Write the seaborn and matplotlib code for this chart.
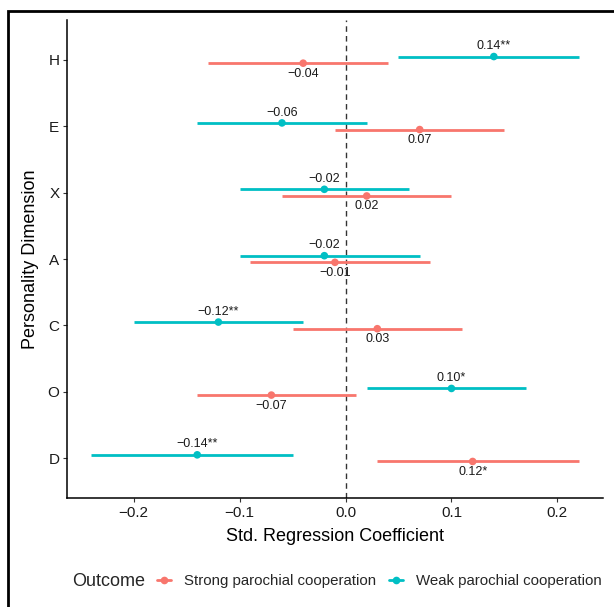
import numpy as np
import pandas as pd
import matplotlib
matplotlib.use("Agg")
import matplotlib.pyplot as plt
import seaborn as sns
from matplotlib.lines import Line2D
from matplotlib.patches import Rectangle

# ---- data ----
dimensions = ["H", "E", "X", "A", "C", "O", "D"]
outcomes = ["Strong parochial cooperation", "Weak parochial cooperation"]
strong_est = [-0.04, 0.07, 0.02, -0.01, 0.03, -0.07, 0.12]
strong_lo = [-0.13, -0.01, -0.06, -0.09, -0.05, -0.14, 0.03]
strong_hi = [0.04, 0.15, 0.10, 0.08, 0.11, 0.01, 0.22]
strong_sig = ["", "", "", "", "", "", "*"]
weak_est = [0.14, -0.06, -0.02, -0.02, -0.12, 0.10, -0.14]
weak_lo = [0.05, -0.14, -0.10, -0.10, -0.20, 0.02, -0.24]
weak_hi = [0.22, 0.02, 0.06, 0.07, -0.04, 0.17, -0.05]
weak_sig = ["**", "", "", "", "**", "*", "**"]
x_ticks = [-0.2, -0.1, 0.0, 0.1, 0.2]
x_tick_labels = ["\u22120.2", "\u22120.1", "0.0", "0.1", "0.2"]

colors = {outcomes[0]: "#F8766D", outcomes[1]: "#00BFC4"}
dodge = {outcomes[0]: -0.05, outcomes[1]: 0.05}
label_offset = {outcomes[0]: -7.5, outcomes[1]: 7.5}

n = len(dimensions)
rows = []
for i, d in enumerate(dimensions):
    rows.append(dict(dim=d, outcome=outcomes[0], est=strong_est[i], lo=strong_lo[i],
                     hi=strong_hi[i], sig=strong_sig[i], base=n - i))
    rows.append(dict(dim=d, outcome=outcomes[1], est=weak_est[i], lo=weak_lo[i],
                     hi=weak_hi[i], sig=weak_sig[i], base=n - i))
df = pd.DataFrame(rows)
df["ypos"] = df["base"] + df["outcome"].map(dodge)

sns.set_theme(style="white")
plt.rcParams["font.family"] = ["Liberation Sans", "DejaVu Sans"]

fig = plt.figure(figsize=(6.14, 6.07), dpi=100)
ax = fig.add_axes([0.109, 0.1796, 0.873, 0.7874])

# reference line
ax.axvline(0, color="#333333", lw=1.0, ls=(0, (4, 3)), zorder=1)

# confidence intervals
for o in outcomes:
    sub = df[df["outcome"] == o]
    ax.hlines(sub["ypos"], sub["lo"], sub["hi"], color=colors[o], lw=2.0, zorder=2)

sns.scatterplot(data=df, x="est", y="ypos", hue="outcome", palette=colors,
                s=30, linewidth=0, legend=False, ax=ax, zorder=3)

# value labels
for _, r in df.iterrows():
    txt = f"{r['est']:.2f}".replace("-", "\u2212") + r["sig"]
    ax.annotate(txt, (r["est"], r["ypos"]), xytext=(0, label_offset[r["outcome"]]),
                textcoords="offset points", ha="center", va="center",
                fontsize=9, color="#1a1a1a", zorder=4)

ax.set_xlim(-0.263, 0.243)
ax.set_ylim(0.4, 7.6)
ax.set_xticks(x_ticks)
ax.set_xticklabels(x_tick_labels)
ax.set_yticks(range(n, 0, -1))
ax.set_yticklabels(dimensions)
ax.tick_params(axis="both", length=3, width=0.8, color="#333333", labelsize=11,
               labelcolor="#1a1a1a", pad=2.5, bottom=True, left=True)
for s in ["top", "right"]:
    ax.spines[s].set_visible(False)
for s in ["left", "bottom"]:
    ax.spines[s].set_color("black")
    ax.spines[s].set_linewidth(1.1)
ax.set_xlabel("Std. Regression Coefficient", fontsize=13, color="black", labelpad=6)
ax.set_ylabel("Personality Dimension", fontsize=13, color="black", labelpad=6)

# legend at bottom
fig.text(72 / 614, 1 - 581 / 607, "Outcome", fontsize=13, va="center", ha="left")
handles = [Line2D([0], [0], color=colors[o], lw=2.0, marker="o", markersize=5.5,
                  markeredgewidth=0) for o in outcomes]
fig.legend(handles, outcomes, loc="center left", bbox_to_anchor=(157 / 614, 1 - 581 / 607),
           ncol=2, frameon=False, fontsize=10.8, handlelength=0.95, handletextpad=0.85,
           columnspacing=0.85, borderpad=0, borderaxespad=0)

# outer frame (partially visible)
fig.patches.append(Rectangle((8 / 614, -0.2), 1.5, 1 - 11 / 607 + 0.2,
                             transform=fig.transFigure, fill=False, edgecolor="black",
                             lw=2.0, clip_on=False))

fig.savefig("out.png", dpi=100)
